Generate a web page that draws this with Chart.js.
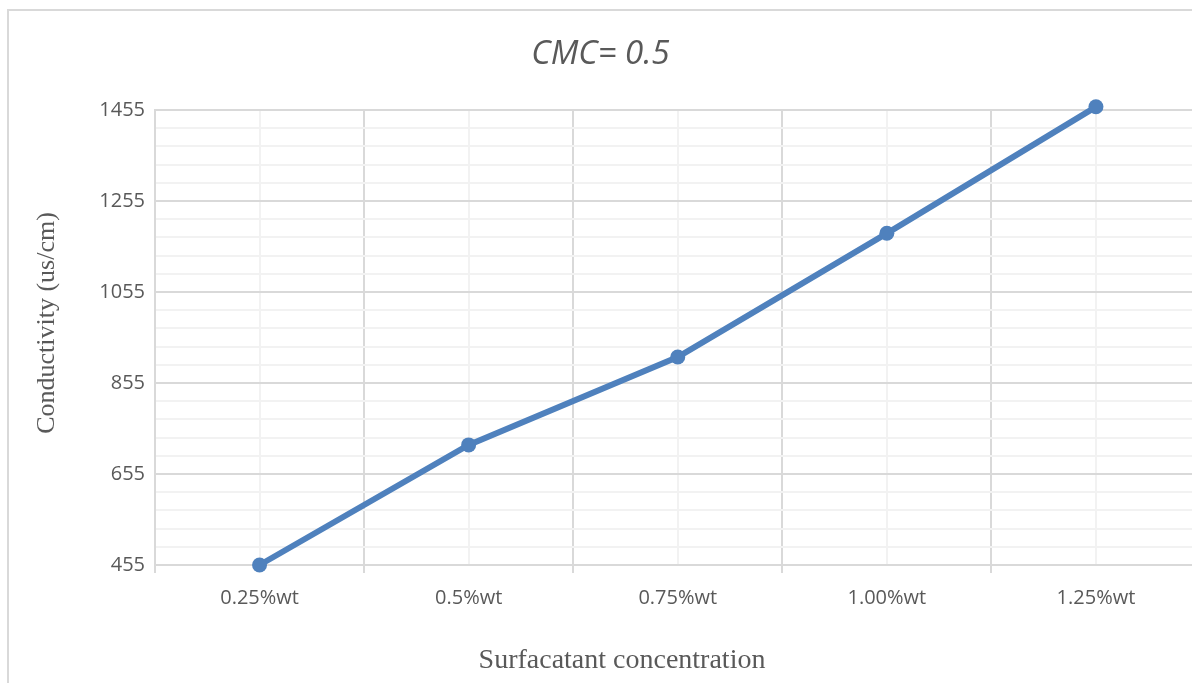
<!DOCTYPE html>
<html>
<head>
<meta charset="utf-8">
<title>CMC= 0.5</title>
<script src="https://cdn.jsdelivr.net/npm/chart.js@4.4.1/dist/chart.umd.min.js"></script>
<style>
  html, body { margin: 0; padding: 0; background: #fff; overflow: hidden; }
  body { width: 1192px; height: 683px; position: relative; }
  .frame { position: absolute; left: 7px; top: 9px; width: 1300px; height: 800px; border: 2px solid #d9d9d9; }
  .wrap { position: absolute; left: 0; top: 0; width: 1208px; height: 700px; }
</style>
</head>
<body>
<div class="frame"></div>
<div class="wrap"><canvas id="myChart" width="1208" height="700"></canvas></div>
<script>
// data
const categories = ['0.25%wt', '0.5%wt', '0.75%wt', '1.00%wt', '1.25%wt'];
const conductivity = [455, 719, 912, 1184, 1462];
const yMajorTicks = [455, 655, 855, 1055, 1255, 1455];
const yMinorSteps = 5; // excel minor gridlines: 5 per major step

const MAJOR = '#d9d9d9';
const MINOR = '#f2f2f2';
const TEXT = '#595959';

// axis titles drawn where excel puts them (not centred on the plot area)
const axisTitles = {
  id: 'axisTitles',
  afterDraw(chart) {
    const {ctx} = chart;
    ctx.save();
    ctx.fillStyle = TEXT;
    ctx.textAlign = 'center';
    ctx.textBaseline = 'middle';
    ctx.font = '28px "Liberation Serif", "Times New Roman", serif';
    ctx.fillText('Surfacatant concentration', 622, 661);
    ctx.translate(47, 323);
    ctx.rotate(-Math.PI / 2);
    ctx.font = '26px "Liberation Serif", "Times New Roman", serif';
    ctx.fillText('Conductivity (us/cm)', 0, 0);
    ctx.restore();
  }
};

const data = {
  datasets: [{
    label: 'Conductivity',
    data: conductivity.map((v, i) => ({x: i + 0.5, y: v})),
    borderColor: '#4f81bd',
    backgroundColor: '#4f81bd',
    borderWidth: 6,
    tension: 0,
    pointRadius: 7.5,
    pointHoverRadius: 7.5,
    pointBorderWidth: 0,
    clip: false
  }]
};

const config = {
  type: 'line',
  data,
  options: {
    responsive: false,
    animation: false,
    layout: { padding: { left: 0, right: 7, top: 0, bottom: 0 } },
    scales: {
      x: {
        type: 'linear',
        min: 0,
        max: categories.length,
        afterFit(s) {
          s.height = 135;
          s.paddingLeft = 0; // the tick padding would otherwise eat into the plot width
          s.paddingRight = 0;
        },
        afterBuildTicks(s) {
          const t = [];
          for (let i = 0; i <= categories.length * 2; i++) t.push({value: i / 2});
          s.ticks = t;
        },
        grid: {
          color: c => Number.isInteger(c.tick.value) ? MAJOR : MINOR,
          tickColor: c => Number.isInteger(c.tick.value) ? MAJOR : 'rgba(0,0,0,0)',
          tickLength: 8,
          lineWidth: 2
        },
        border: { color: MAJOR, width: 2 },
        ticks: {
          autoSkip: false,
          maxRotation: 0,
          padding: 13,
          color: TEXT,
          font: { family: '"Open Sans", sans-serif', size: 20 },
          callback: v => Number.isInteger(v) ? '' : categories[Math.floor(v)]
        }
      },
      y: {
        min: yMajorTicks[0],
        max: yMajorTicks[yMajorTicks.length - 1],
        afterFit(s) { s.width = 155; },
        afterBuildTicks(s) {
          const t = [];
          for (let i = 0; i < yMajorTicks.length - 1; i++) {
            const step = (yMajorTicks[i + 1] - yMajorTicks[i]) / yMinorSteps;
            for (let j = 0; j < yMinorSteps; j++) t.push({value: yMajorTicks[i] + j * step});
          }
          t.push({value: yMajorTicks[yMajorTicks.length - 1]});
          s.ticks = t;
        },
        grid: {
          color: c => yMajorTicks.includes(c.tick.value) ? MAJOR : MINOR,
          drawTicks: false,
          lineWidth: 2
        },
        border: { color: MAJOR, width: 2 },
        ticks: {
          autoSkip: false,
          padding: 10,
          color: TEXT,
          font: { family: '"Open Sans", sans-serif', size: 20 },
          callback: v => yMajorTicks.includes(v) ? String(v) : ''
        }
      }
    },
    plugins: {
      legend: { display: false },
      tooltip: { enabled: false },
      title: {
        display: true,
        text: 'CMC= 0.5',
        color: TEXT,
        font: { family: '"Open Sans", sans-serif', size: 33, style: 'italic', weight: 'normal', lineHeight: 1.2 },
        padding: { top: 35, bottom: 35.4 }
      }
    }
  },
  plugins: [axisTitles]
};

const myChart = new Chart(document.getElementById('myChart'), config);
</script>
</body>
</html>
